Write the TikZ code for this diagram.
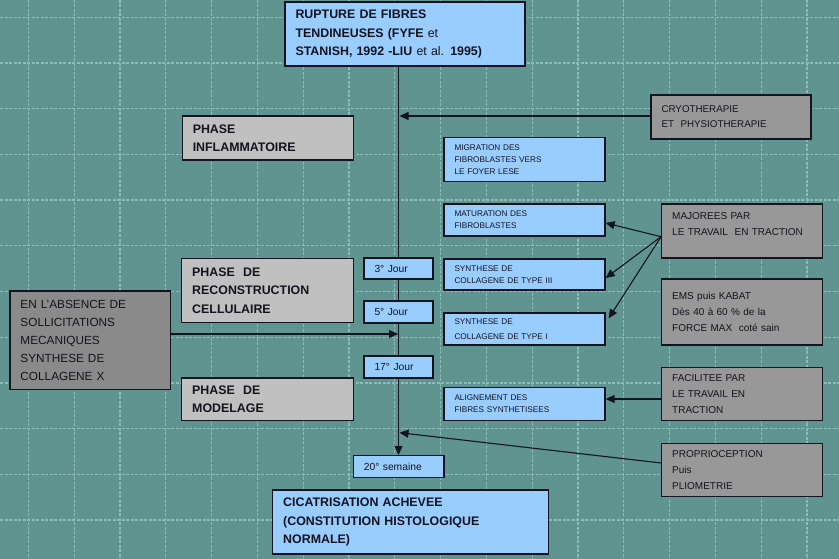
\documentclass[tikz,border=0pt]{standalone}
\usepackage{fontspec}
\setmainfont{Liberation Sans}
\usetikzlibrary{arrows.meta,calc}
\definecolor{bgc}{RGB}{95,148,144}
\definecolor{gridc}{RGB}{140,188,183}
\definecolor{lblue}{RGB}{153,204,255}
\definecolor{lgrey}{RGB}{192,192,192}
\definecolor{mgrey}{RGB}{152,152,152}
\definecolor{dgrey}{RGB}{138,138,138}
\definecolor{ink}{RGB}{20,20,30}
\tikzset{
  box/.style={draw=ink, line width=1.3pt, inner xsep=10.5pt, inner ysep=0pt, align=left, text=ink, anchor=center},
  sz/.style 2 args={minimum width=#1pt, minimum height=#2pt, text width={#1pt-21pt}},
  bluebox/.style={box, fill=lblue},
  phasebox/.style={box, fill=lgrey},
  sidebox/.style={box, fill=mgrey},
  darkbox/.style={box, fill=dgrey},
  bigbold/.style={font=\fontsize{12.4}{18.5}\selectfont\bfseries},
  bigreg/.style={font=\fontsize{11.8}{18}\selectfont},
  smalltxt/.style={font=\fontsize{8.2}{12.3}\selectfont},
  sidetxt/.style={font=\fontsize{10}{16}\selectfont},
  jourtxt/.style={font=\fontsize{10.3}{12}\selectfont},
  link/.style={draw=ink, line width=1.1pt},
  arr/.style={link, -{Triangle[length=9pt,width=8pt]}},
  gridline/.style={draw=gridc, line width=1.2pt, dash pattern=on 3pt off 1.5pt},
}
\begin{document}
\begin{tikzpicture}[x=1pt,y=-1pt]
\useasboundingbox (0,0) rectangle (839,559);
\fill[bgc] (0,0) rectangle (839,559);
\foreach \i in {0,...,17} {\draw[gridline] ({28.3+45.8*\i},0) -- ({28.3+45.8*\i},559);}
\foreach \j in {0,...,11} {\draw[gridline] (0,{17.3+45.7*\j}) -- (839,{17.3+45.7*\j});}

% main column
\node[bluebox, bigbold, sz={240}{64}] (top) at (405,34) {RUPTURE DE FIBRES\\TENDINEUSES (FYFE {\mdseries et}\\STANISH, 1992 -LIU {\mdseries et al.} 1995)};
\node[bluebox, jourtxt, sz={69}{21}] (j3) at (398.5,268.5) {3° Jour};
\node[bluebox, jourtxt, sz={69}{22}] (j5) at (398.5,312) {5° Jour};
\node[bluebox, jourtxt, sz={69}{22}] (j17) at (398.5,367) {17° Jour};
\node[bluebox, jourtxt, sz={90.7}{22}] (sem) at (398.7,466.7) {20° semaine};
\node[bluebox, bigbold, sz={275.6}{64}] (cic) at (410.5,522) {CICATRISATION ACHEVEE\\(CONSTITUTION HISTOLOGIQUE\\NORMALE)};

% phases
\node[phasebox, bigbold, sz={171.5}{44}] (infl) at (268,138) {PHASE\\INFLAMMATOIRE};
\node[phasebox, bigbold, sz={171.6}{64}] (recon) at (267.5,290.5) {PHASE\ \ DE\\RECONSTRUCTION\\CELLULAIRE};
\node[phasebox, bigbold, sz={171.6}{42.3}] (model) at (267.5,399) {PHASE\ \ DE\\MODELAGE};
\node[darkbox, bigreg, sz={160.7}{98.3}] (abs) at (90.3,340) {EN L’ABSENCE DE\\SOLLICITATIONS\\MECANIQUES\\SYNTHESE DE\\COLLAGENE X};

% processes
\node[bluebox, smalltxt, sz={161}{44}] (mig) at (524.5,159.5) {MIGRATION DES\\FIBROBLASTES VERS\\LE FOYER LESE};
\node[bluebox, smalltxt, sz={161}{32}] (mat) at (524.5,220) {MATURATION DES\\FIBROBLASTES};
\node[bluebox, smalltxt, sz={161}{31}] (t3) at (524.5,274.5) {SYNTHESE DE\\COLLAGENE DE TYPE III};
\node[bluebox, font=\fontsize{8.2}{15}\selectfont, sz={161}{32}] (t1) at (524.5,329) {SYNTHESE DE\\COLLAGENE DE TYPE I};
\node[bluebox, smalltxt, sz={161}{33}] (al) at (524.5,404) {ALIGNEMENT DES\\FIBRES SYNTHETISEES};

% therapies
\node[sidebox, font=\fontsize{9.8}{15}\selectfont, sz={160}{44}] (cryo) at (731,117) {CRYOTHERAPIE\\ET\ \ PHYSIOTHERAPIE};
\node[sidebox, sidetxt, sz={160.6}{54}] (maj) at (742,231) {MAJOREES PAR\\LE TRAVAIL\ \ EN TRACTION\\[-2pt]\mbox{}};
\node[sidebox, sidetxt, sz={160.6}{66}] (ems) at (742,312) {EMS puis KABAT\\Dès 40 à 60 \% de la\\FORCE MAX\ \ coté sain};
\node[sidebox, sidetxt, sz={160.6}{53}] (fac) at (742,394) {FACILITEE PAR\\LE TRAVAIL EN\\TRACTION};
\node[sidebox, sidetxt, sz={160.6}{53.4}] (prop) at (742,470) {PROPRIOCEPTION\\Puis\\PLIOMETRIE};

% spine
\draw[link] (top.south -| j3) -- (j3.north);
\draw[link] (j3.south) -- (j5.north);
\draw[link] (j5.south) -- (j17.north);
\draw[arr] (j17.south) -- (sem.north -| j17);

% connectors
\coordinate (pa) at (398,334);
\coordinate (pp) at (399.5,432.7);
\coordinate (pc) at (399.5,116);
\draw[arr] (cryo.west |- pc) -- (pc);
\draw[arr] (abs.east |- pa) -- (pa);
\draw[arr] ($(prop.west)+(0,-7)$) -- (pp);
\coordinate (mo) at ($(maj.west)+(0,5.7)$);
\draw[arr] (mo) -- ($(mat.east)+(0,3)$);
\draw[arr] (mo) -- ($(t3.east)+(0,3.5)$);
\draw[arr] (mo) -- ($(t1.north east)+(3,6)$);
\draw[arr] ($(fac.west)+(0,5)$) -- ($(al.east)+(0,-5)$);
\end{tikzpicture}
\end{document}
